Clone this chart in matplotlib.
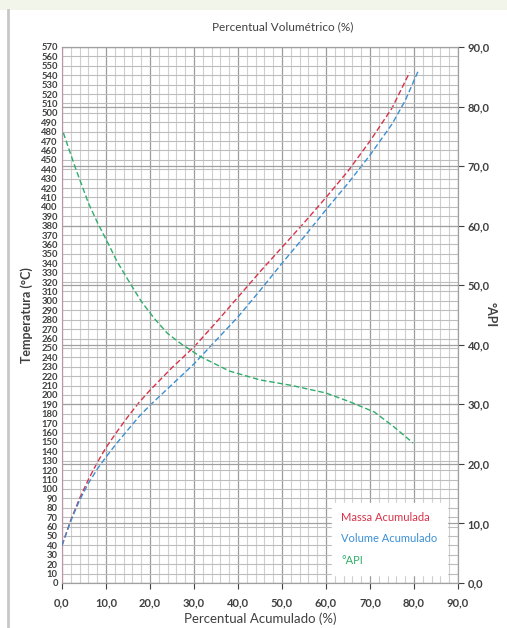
import matplotlib
matplotlib.use('Agg')
import matplotlib.pyplot as plt
from matplotlib.lines import Line2D
from matplotlib.patches import Rectangle
from matplotlib.ticker import MultipleLocator, FuncFormatter

plt.rcParams['font.family'] = ['Lato', 'DejaVu Sans']

# Massa acumulada (% vs temperatura)
x_massa = [0, 2, 4, 6, 8, 10, 12.5, 15, 17.5, 20, 22.5, 25, 30, 35, 40, 45, 50, 55, 60, 65, 70, 75, 79]
massa = [40, 67, 90, 110, 128, 144, 161, 177, 192, 205, 217, 229, 251, 277, 304, 331, 357, 383, 410, 438, 470, 505, 543]

# Volume acumulado
x_volume = [0, 2, 4, 6, 8, 10, 12.5, 15, 17.5, 20, 22.5, 25, 30, 35, 40, 45, 50, 55, 60, 65, 70, 75, 78, 81]
volume = [40, 66, 88, 106, 121, 134, 149, 163, 177, 189, 200, 211, 233, 258, 283, 311, 340, 368, 397, 425, 455, 488, 513, 545]

# grau API (eixo direito)
x_api = [0.3, 3, 6, 8, 10.5, 12.5, 15, 18, 21, 24, 27, 31.5, 38, 45, 52, 60, 65.5, 71, 75.3, 79.8]
api = [75.6, 69.8, 63.8, 60.6, 57.0, 54.0, 50.9, 47.3, 44.4, 41.9, 40.2, 38.0, 35.6, 34.1, 33.2, 31.9, 30.4, 28.7, 26.3, 23.5]

c_massa = '#d8334a'
c_volume = '#3b8fd4'
c_api = '#2fae6a'
txt = '#404040'

fig = plt.figure(figsize=(5.07, 6.28), dpi=100)
fig.add_artist(Rectangle((0, 1 - 10 / 628), 1, 10 / 628, transform=fig.transFigure,
                         facecolor='#f1f5ea', edgecolor='none'))
fig.add_artist(Line2D([8 / 507, 8 / 507], [0, 1 - 10 / 628], transform=fig.transFigure,
                      color='#c8c8c8', lw=2))

ax = fig.add_axes([62 / 507, 1 - 583 / 628, 396 / 507, 536 / 628])
ax2 = ax.twinx()

ax.plot(x_massa, massa, color=c_massa, lw=1.0, dashes=(4, 2), label='Massa Acumulada', zorder=3)
ax.plot(x_volume, volume, color=c_volume, lw=1.0, dashes=(4, 2), label='Volume Acumulado', zorder=3)
ax2.plot(x_api, api, color=c_api, lw=1.0, dashes=(4, 2), label='°API', zorder=3)

ax.set_xlim(0, 90)
ax.set_ylim(0, 570)
ax2.set_ylim(0, 90)

ax.xaxis.set_major_locator(MultipleLocator(10))
ax.xaxis.set_minor_locator(MultipleLocator(2))
ax.yaxis.set_major_locator(MultipleLocator(10))
ax2.yaxis.set_major_locator(MultipleLocator(10))

comma = FuncFormatter(lambda v, p: f'{v:.1f}'.replace('.', ','))
ax.xaxis.set_major_formatter(comma)
ax2.yaxis.set_major_formatter(comma)

ax.grid(True, which='major', axis='x', color='#9c9c9c', lw=0.9)
ax.grid(True, which='minor', axis='x', color='#cfcfcf', lw=0.8)
ax.grid(True, which='major', axis='y', color='#bdbdbd', lw=0.8)
ax2.grid(True, which='major', axis='y', color='#a0a0a0', lw=0.9, zorder=0)
ax.set_axisbelow(True)

ax.tick_params(axis='y', labelsize=6.8, length=0, pad=3, colors=txt)
ax.tick_params(axis='x', which='major', labelsize=8, length=4, pad=6, colors=txt)
ax.tick_params(axis='x', which='minor', length=0)
ax2.tick_params(axis='y', labelsize=8, length=4, pad=3, colors=txt)
for lab in ax.get_yticklabels() + ax.get_xticklabels() + ax2.get_yticklabels():
    lab.set_fontweight('bold')

ax.spines['left'].set_color('#c090a8')
for s in ['right', 'bottom', 'top']:
    ax.spines[s].set_color('#a0a0a0')
    ax2.spines[s].set_color('#a0a0a0')
ax2.spines['left'].set_visible(False)

ax.set_xlabel('Percentual Acumulado (%)', fontsize=9.5, color=txt, labelpad=3)
ax.set_ylabel('Temperatura (°C)', fontsize=9, color=txt, fontweight='bold', labelpad=6)
ax2.set_ylabel('°API', fontsize=9, color=txt, fontweight='bold', rotation=-90, labelpad=5)
fig.text(283 / 507, 1 - 27 / 628, 'Percentual Volumétrico (%)', ha='center', va='center',
         fontsize=8.5, color=txt)

h1, l1 = ax.get_legend_handles_labels()
h2, l2 = ax2.get_legend_handles_labels()
leg = ax2.legend(h1 + h2, l1 + l2, loc='lower right', bbox_to_anchor=(0.985, 0.005),
                 handlelength=0, handletextpad=0, labelspacing=0.95, fontsize=8,
                 frameon=True, fancybox=False, framealpha=1, edgecolor='white',
                 borderpad=0.8, labelcolor=[c_massa, c_volume, c_api])
for h in leg.legend_handles:
    h.set_visible(False)

fig.savefig('out.png', dpi=100)
